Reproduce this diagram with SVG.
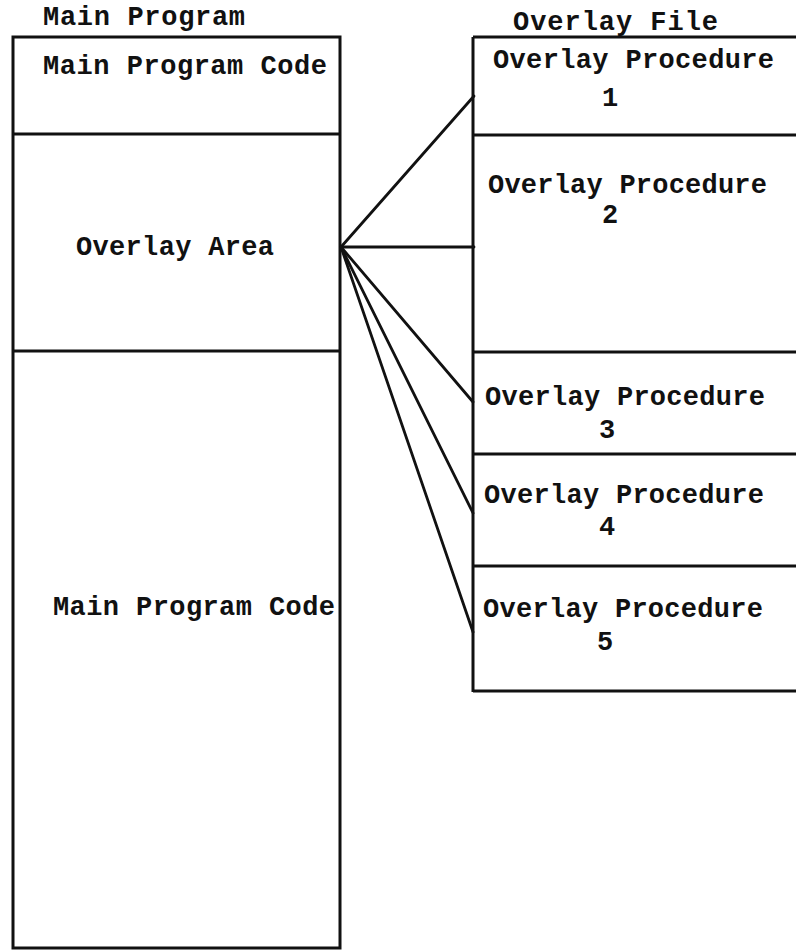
<svg xmlns="http://www.w3.org/2000/svg" width="796" height="952" viewBox="0 0 796 952">
  <style>
    .bg { fill: #ffffff; }
    .box { fill: none; stroke: #111111; stroke-width: 3; }
    .rule { stroke: #111111; stroke-width: 3; fill: none; }
    .link { stroke: #111111; stroke-width: 2.8; fill: none; stroke-linecap: round; }
    .t { font-family: "Liberation Mono", "DejaVu Sans Mono", monospace; font-size: 27px; font-weight: bold; fill: #111111; }
    .n { text-anchor: middle; }
  </style>
  <rect class="bg" x="0" y="0" width="796" height="952"/>

  <!-- Titles -->
  <text class="t" x="43" y="25" textLength="202" lengthAdjust="spacing">Main Program</text>
  <text class="t" x="513" y="30" textLength="205" lengthAdjust="spacing">Overlay File</text>

  <!-- Main program memory layout -->
  <g id="main-program">
    <rect class="box" x="13" y="37" width="327" height="911"/>
    <g id="main-code-top">
      <text class="t" x="43" y="74" textLength="284" lengthAdjust="spacing">Main Program Code</text>
    </g>
    <line class="rule" x1="13" y1="134" x2="341" y2="134"/>
    <g id="overlay-area">
      <text class="t" x="76" y="255" textLength="198" lengthAdjust="spacing">Overlay Area</text>
    </g>
    <line class="rule" x1="13" y1="351" x2="341" y2="351"/>
    <g id="main-code-bottom">
      <text class="t" x="53" y="615" textLength="282" lengthAdjust="spacing">Main Program Code</text>
    </g>
  </g>

  <!-- Overlay file, open on the right -->
  <g id="overlay-file">
    <line class="rule" x1="473" y1="37" x2="473" y2="692"/>
    <line class="rule" x1="473" y1="37" x2="796" y2="37"/>
    <g id="proc-1">
      <text class="t" x="493" y="68" textLength="281" lengthAdjust="spacing">Overlay Procedure</text>
      <text class="t n" x="610" y="106">1</text>
    </g>
    <line class="rule" x1="473" y1="135" x2="796" y2="135"/>
    <g id="proc-2">
      <text class="t" x="488" y="193" textLength="279" lengthAdjust="spacing">Overlay Procedure</text>
      <text class="t n" x="610" y="223">2</text>
    </g>
    <line class="rule" x1="473" y1="352" x2="796" y2="352"/>
    <g id="proc-3">
      <text class="t" x="485" y="405" textLength="280" lengthAdjust="spacing">Overlay Procedure</text>
      <text class="t n" x="607" y="438">3</text>
    </g>
    <line class="rule" x1="473" y1="454" x2="796" y2="454"/>
    <g id="proc-4">
      <text class="t" x="484" y="503" textLength="280" lengthAdjust="spacing">Overlay Procedure</text>
      <text class="t n" x="607" y="535">4</text>
    </g>
    <line class="rule" x1="473" y1="566" x2="796" y2="566"/>
    <g id="proc-5">
      <text class="t" x="483" y="617" textLength="280" lengthAdjust="spacing">Overlay Procedure</text>
      <text class="t n" x="605" y="650">5</text>
    </g>
    <line class="rule" x1="473" y1="691" x2="796" y2="691"/>
  </g>

  <!-- Connectors fanning out from the overlay area -->
  <g id="connectors">
    <line class="link" x1="341" y1="247" x2="474" y2="96"/>
    <line class="link" x1="341" y1="247" x2="474" y2="247"/>
    <line class="link" x1="341" y1="247" x2="473" y2="402"/>
    <line class="link" x1="341" y1="247" x2="473" y2="513"/>
    <line class="link" x1="341" y1="247" x2="473" y2="632"/>
  </g>
</svg>
